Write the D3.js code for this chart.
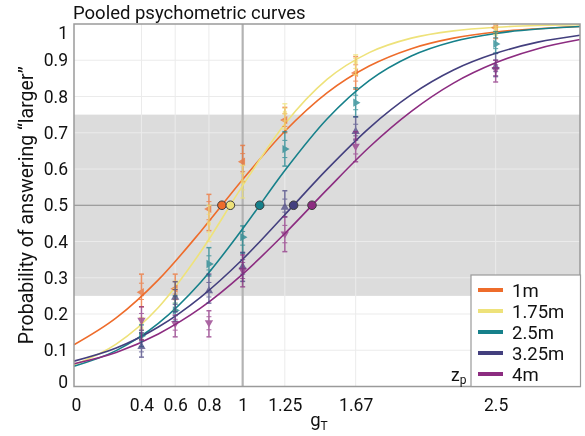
<!DOCTYPE html>
<html><head><meta charset="utf-8">
<script src="https://cdn.jsdelivr.net/npm/d3@7"></script>
<style>body{margin:0;background:#fff;} text{font-family:Roboto,"Noto Sans",sans-serif;}</style>
</head><body><svg id="c" width="585" height="436"></svg>
<script>
// ---- data ----
const seriesNames = ["1m", "1.75m", "2.5m", "3.25m", "4m"];
const seriesColors = ["#ee6c2b", "#eee27a", "#16808a", "#433f7e", "#8c2c80"];
const seriesMarkers = ["left", "square", "right", "up", "down"];
const xTickValues = [0, 0.4, 0.6, 0.8, 1, 1.25, 1.67, 2.5];
const xTickLabels = ["0", "0.4", "0.6", "0.8", "1", "1.25", "1.67", "2.5"];
const yTickValues = [0, 0.1, 0.2, 0.3, 0.4, 0.5, 0.6, 0.7, 0.8, 0.9, 1];
const yTickLabels = ["0", "0.1", "0.2", "0.3", "0.4", "0.5", "0.6", "0.7", "0.8", "0.9", "1"];
const gLevels = [0.4, 0.6, 0.8, 1, 1.25, 1.67, 2.5];
// observed proportions per series (at gLevels)
const obsMean = [
  [0.26, 0.27, 0.49, 0.62, 0.735, 0.865, 0.99],
  [0.16, 0.25, 0.45, 0.565, 0.755, 0.895, 0.985],
  [0.14, 0.21, 0.338, 0.412, 0.655, 0.783, 0.945],
  [0.11, 0.246, 0.264, 0.33, 0.494, 0.703, 0.882],
  [0.183, 0.174, 0.176, 0.321, 0.421, 0.663, 0.875]
];
const obsLo = [
  [0.22, 0.24, 0.43, 0.565, 0.70, 0.82, 0.96],
  [0.13, 0.21, 0.40, 0.52, 0.71, 0.86, 0.97],
  [0.11, 0.18, 0.305, 0.368, 0.608, 0.744, 0.919],
  [0.081, 0.206, 0.23, 0.29, 0.468, 0.68, 0.855],
  [0.128, 0.137, 0.137, 0.275, 0.372, 0.62, 0.84]
];
const obsHi = [
  [0.31, 0.31, 0.53, 0.665, 0.77, 0.91, 1.0],
  [0.19, 0.29, 0.50, 0.61, 0.78, 0.915, 1.0],
  [0.17, 0.25, 0.383, 0.443, 0.703, 0.824, 0.979],
  [0.148, 0.289, 0.31, 0.37, 0.540, 0.744, 0.919],
  [0.22, 0.197, 0.209, 0.363, 0.468, 0.703, 0.90]
];
const curveG = [0, 0.25, 0.5, 0.75, 1, 1.25, 1.5, 1.75, 2, 2.25, 2.5, 2.75, 3];
const curveP = [
  [0.115, 0.189, 0.294, 0.427, 0.571, 0.704, 0.810, 0.884, 0.932, 0.961, 0.978, 0.987, 0.993],
  [0.060, 0.117, 0.218, 0.371, 0.554, 0.724, 0.847, 0.921, 0.961, 0.981, 0.991, 0.996, 0.998],
  [0.056, 0.099, 0.174, 0.287, 0.435, 0.596, 0.738, 0.844, 0.912, 0.952, 0.974, 0.986, 0.993],
  [0.070, 0.106, 0.164, 0.246, 0.351, 0.474, 0.599, 0.713, 0.805, 0.873, 0.919, 0.950, 0.969],
  [0.063, 0.094, 0.145, 0.216, 0.310, 0.422, 0.543, 0.660, 0.759, 0.837, 0.893, 0.932, 0.957]
];
// points of subjective equality (p = 0.5)
const pse = [0.877, 0.927, 1.101, 1.302, 1.411];

// ---- layout ----
const L = 74, R = 580, T = 24, B = 386.5;
const svg = d3.select("#c");
const x = d3.scaleLinear().domain([0, 3]).range([L, R]);
const y = d3.scaleLinear().domain([0, 1]).range([B, T]);

// band
svg.append("rect").attr("x", L).attr("y", y(0.75)).attr("width", R - L).attr("height", y(0.25) - y(0.75)).attr("fill", "#dcdcdc");

// grid
const grid = svg.append("g");
grid.selectAll("line.v").data(xTickValues.filter(v => v !== 0 && v !== 1)).join("line")
  .attr("x1", d => x(d)).attr("x2", d => x(d)).attr("y1", T).attr("y2", B)
  .attr("stroke", "#ebebeb").attr("stroke-width", 1);
grid.selectAll("line.h").data(yTickValues.filter(v => v > 0 && v < 1 && v !== 0.5)).join("line")
  .attr("x1", L).attr("x2", R).attr("y1", d => y(d)).attr("y2", d => y(d))
  .attr("stroke", "#ebebeb").attr("stroke-width", 1);

// reference lines
svg.append("line").attr("x1", x(1)).attr("x2", x(1)).attr("y1", T).attr("y2", B).attr("stroke", "#b3b3b3").attr("stroke-width", 2.2);
svg.append("line").attr("x1", L).attr("x2", R).attr("y1", y(0.5)).attr("y2", y(0.5)).attr("stroke", "#8a8a8a").attr("stroke-width", 1.2);

// curves
const line = d3.line().x(d => x(d[0])).y(d => y(d[1])).curve(d3.curveMonotoneX);
seriesNames.forEach((n, i) => {
  svg.append("path").datum(curveG.map((g, j) => [g, curveP[i][j]]))
    .attr("d", line).attr("fill", "none").attr("stroke", seriesColors[i]).attr("stroke-width", 1.6);
});

// error bars + markers
const rot = {left: 270, right: 90, up: 0, down: 180};
seriesNames.forEach((n, i) => {
  const g = svg.append("g").attr("opacity", 0.72);
  gLevels.forEach((gv, j) => {
    const cx = x(gv);
    g.append("line").attr("x1", cx).attr("x2", cx).attr("y1", y(obsLo[i][j])).attr("y2", y(obsHi[i][j]))
      .attr("stroke", seriesColors[i]).attr("stroke-width", 1.5);
    [obsLo[i][j], obsHi[i][j], (obsLo[i][j] + obsMean[i][j]) / 2, (obsHi[i][j] + obsMean[i][j]) / 2].forEach((v, k) => {
      g.append("line").attr("x1", cx - 2.5).attr("x2", cx + 2.5).attr("y1", y(v)).attr("y2", y(v))
        .attr("stroke", seriesColors[i]).attr("stroke-width", k < 2 ? 1.5 : 1);
    });
    const m = seriesMarkers[i];
    const sym = d3.symbol().type(m === "square" ? d3.symbolSquare : d3.symbolTriangle).size(m === "square" ? 16 : 30);
    g.append("path").attr("d", sym())
      .attr("transform", `translate(${cx},${y(obsMean[i][j])}) rotate(${m === "square" ? 0 : rot[m]})`)
      .attr("fill", seriesColors[i]);
  });
});

// PSE circles
seriesNames.forEach((n, i) => {
  svg.append("circle").attr("cx", x(pse[i])).attr("cy", y(0.5)).attr("r", 4.3)
    .attr("fill", seriesColors[i]).attr("stroke", "#3a3a3a").attr("stroke-width", 1);
});

// frame
svg.append("rect").attr("x", L).attr("y", T).attr("width", R - L).attr("height", B - T)
  .attr("fill", "none").attr("stroke", "#9a9a9a").attr("stroke-width", 1.5);

// axes
const xAxis = svg.append("g").attr("transform", `translate(0,${B})`)
  .call(d3.axisBottom(x).tickValues(xTickValues).tickFormat((d, i) => xTickLabels[i]).tickSize(0).tickPadding(12));
xAxis.select(".domain").remove();
xAxis.selectAll("text").attr("font-size", 17.5).attr("fill", "#111").attr("font-family", "Roboto")
  .attr("dx", (d) => d === 0 ? 2 : 0);
const yAxis = svg.append("g").attr("transform", `translate(${L},0)`)
  .call(d3.axisLeft(y).tickValues(yTickValues).tickFormat((d, i) => yTickLabels[i]).tickSize(0).tickPadding(6));
yAxis.select(".domain").remove();
yAxis.selectAll("text").attr("font-size", 17.5).attr("fill", "#111").attr("font-family", "Roboto")
  .attr("dy", d => d === 1 ? "0.85em" : d === 0 ? "0.05em" : "0.32em");

// titles
svg.append("text").attr("x", L - 1).attr("y", 19).attr("font-size", 18.5).attr("fill", "#111").text("Pooled psychometric curves");
svg.append("text").attr("transform", `translate(33,${(T + B) / 2 + 0}) rotate(-90)`).attr("text-anchor", "middle")
  .attr("font-size", 19.5).attr("fill", "#111").text("Probability of answering “larger”");
const xl = svg.append("text").attr("x", 319).attr("y", 426).attr("font-size", 18.5).attr("fill", "#111").attr("text-anchor", "middle");
xl.append("tspan").text("g");
xl.append("tspan").attr("font-size", 12).attr("dy", 4).text("T");

// legend
const lg = svg.append("g");
lg.append("rect").attr("x", 471).attr("y", 275).attr("width", 109.5).attr("height", 111.5)
  .attr("fill", "#fff").attr("stroke", "#9a9a9a").attr("stroke-width", 1.2);
seriesNames.forEach((n, i) => {
  const yy = 290 + i * 21;
  lg.append("line").attr("x1", 478).attr("x2", 503).attr("y1", yy).attr("y2", yy)
    .attr("stroke", seriesColors[i]).attr("stroke-width", 4);
  lg.append("text").attr("x", 512).attr("y", yy + 6.5).attr("font-size", 18.5).attr("fill", "#111").text(n);
});
const zl = svg.append("text").attr("x", 451).attr("y", 381).attr("font-size", 17.5).attr("fill", "#111");
zl.append("tspan").text("z");
zl.append("tspan").attr("font-size", 12).attr("dy", 3).text("p");
</script></body></html>
